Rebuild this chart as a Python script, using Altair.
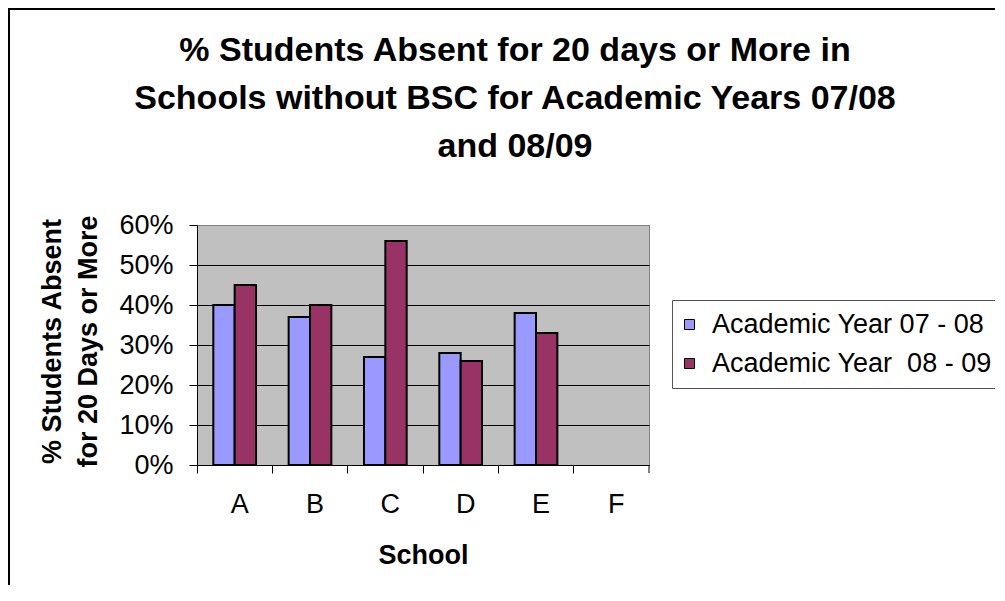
import altair as alt
import pandas as pd

schools = ["A", "B", "C", "D", "E", "F"]
years = ["Academic Year 07 - 08", "Academic Year\u00a0 08 - 09"]
year_0708 = [0.40, 0.37, 0.27, 0.28, 0.38, None]
year_0809 = [0.45, 0.40, 0.56, 0.26, 0.33, None]
colors = ["#9999FF", "#993366"]
title_lines = [
    "% Students Absent for 20 days or More in",
    "Schools without BSC for Academic Years 07/08",
    "and 08/09",
]
y_title = ["% Students Absent", "for 20 Days or More"]
y_ticks = [0, 0.1, 0.2, 0.3, 0.4, 0.5, 0.6]

rows = []
for s, a, b in zip(schools, year_0708, year_0809):
    rows.append({"School": s, "Year": years[0], "Value": a})
    rows.append({"School": s, "Year": years[1], "Value": b})
df = pd.DataFrame(rows)

FONT = "Liberation Sans"
W, H = 452, 240

bars = alt.Chart(df).mark_bar(stroke="black", strokeWidth=2).encode(
    x=alt.X(
        "School:N",
        scale=alt.Scale(domain=schools, paddingInner=0, paddingOuter=0),
        axis=alt.Axis(
            title="School",
            titleFont=FONT,
            titleFontSize=27,
            titleFontWeight="bold",
            titleColor="black",
            titleY=98,
            titleBaseline="alphabetic",
            labelFont=FONT,
            labelFontSize=27,
            labelColor="black",
            labelAngle=0,
            labelPadding=18,
            labelOffset=5,
            tickSize=8,
            tickColor="black",
            domainColor="black",
            bandPosition=0,
            grid=False,
        ),
    ),
    xOffset=alt.XOffset(
        "Year:N",
        scale=alt.Scale(domain=years, paddingInner=0, paddingOuter=0.764),
    ),
    y=alt.Y(
        "Value:Q",
        scale=alt.Scale(domain=[0, 0.6], nice=False),
        axis=alt.Axis(
            title=y_title,
            titleFont=FONT,
            titleFontSize=27,
            titleFontWeight="bold",
            titleColor="black",
            titleLineHeight=36,
            titleAngle=-90,
            titleAlign="center",
            titleBaseline="middle",
            titleX=-145,
            titleY=116,
            values=y_ticks,
            format=".0%",
            labelFont=FONT,
            labelFontSize=27,
            labelColor="black",
            labelPadding=16,
            tickSize=8,
            tickColor="black",
            domainColor="black",
            grid=True,
            gridColor={"condition": {"test": "datum.value >= 0.6", "value": "#808080"}, "value": "black"},
            gridWidth=1,
        ),
    ),
    color=alt.Color(
        "Year:N",
        scale=alt.Scale(domain=years, range=colors),
        legend=alt.Legend(
            orient="none",
            legendX=475,
            legendY=75,
            title=None,
            symbolType="square",
            symbolSize=100,
            symbolStrokeColor="black",
            symbolStrokeWidth=1,
            symbolOpacity=1,
            symbolOffset=-7,
            labelFont=FONT,
            labelFontSize=27,
            labelColor="black",
            labelLimit=500,
            labelOffset=9,
            fillColor="white",
            strokeColor="#555555",
            padding=11,
            rowPadding=11,
        ),
    ),
)

end_tick = alt.Chart(alt.Data(values=[{}])).mark_rule(color="black", strokeWidth=1).encode(
    x=alt.value(W), y=alt.value(H), y2=alt.value(H + 8)
)

frame = alt.Chart(alt.Data(values=[{}])).mark_rect(
    filled=False, stroke="black", strokeWidth=2
).encode(
    x=alt.value(-188), x2=alt.value(W + 360), y=alt.value(-216), y2=alt.value(H + 200)
)

chart = alt.layer(frame, bars, end_tick).properties(
    width=W,
    height=H,
    autosize=alt.AutoSizeParams(type="none"),
    padding={"left": 189, "top": 217, "right": 346, "bottom": 120},
    background="white",
    title=alt.TitleParams(
        text=title_lines,
        font=FONT,
        fontSize=34,
        fontWeight="bold",
        color="black",
        lineHeight=48,
        anchor="middle",
        dx=92,
        offset=-156,
    ),
).configure_view(
    fill="#C0C0C0", stroke="#808080", strokeWidth=1
)

chart.save("out.html", embed_options={"renderer": "svg", "actions": False})
